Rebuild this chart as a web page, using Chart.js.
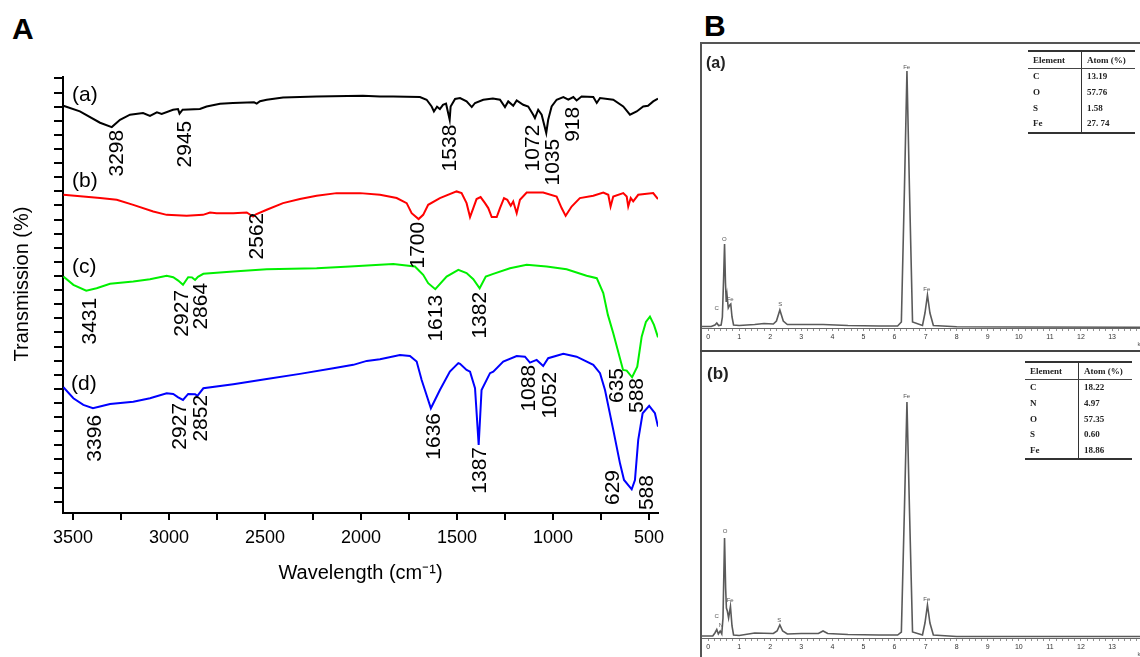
<!DOCTYPE html>
<html>
<head>
<meta charset="utf-8">
<script src="https://cdn.jsdelivr.net/npm/chart.js@4.4.0/dist/chart.umd.min.js"></script>
<style>
body{margin:0;background:#fff;width:1140px;height:657px;overflow:hidden;position:relative;font-family:'Liberation Sans',Arial,sans-serif}
canvas{position:absolute}
.lbl{position:absolute;font-weight:bold;line-height:1;color:#000}
.sub{position:absolute;font-weight:bold;line-height:1;color:#222}
.ln{position:absolute;background:#555}
table.t{position:absolute;border-collapse:collapse;font-family:'Liberation Serif','Times New Roman',serif;font-size:9px;font-weight:bold;color:#222;border-top:2px solid #333;border-bottom:2px solid #333}
table.t td{padding:0 0 0 5px;height:15.7px;line-height:15px;white-space:nowrap}
table.t tr.h td{border-bottom:1.5px solid #444;height:16px}
table.t td:first-child{border-right:1.5px solid #333;width:48px}
</style>
</head>
<body>
<div class="lbl" style="left:12px;top:14px;font-size:30px">A</div>
<div class="lbl" style="left:704px;top:11px;font-size:30px">B</div>

<canvas id="ftir" width="690" height="620" style="left:0;top:0"></canvas>
<canvas id="edsA" width="440" height="308" style="left:700px;top:43px"></canvas>
<canvas id="edsB" width="440" height="306" style="left:700px;top:351px"></canvas>

<div class="ln" style="left:700px;top:42px;width:440px;height:1.5px"></div>
<div class="ln" style="left:700px;top:42px;width:1.5px;height:615px"></div>
<div class="ln" style="left:700px;top:350px;width:440px;height:2px;background:#444"></div>

<div class="sub" style="left:706px;top:55px;font-size:16px">(a)</div>
<div class="sub" style="left:707px;top:365px;font-size:17px">(b)</div>

<table class="t" id="tabA" style="left:1028px;top:50px;width:107px"></table>
<table class="t" id="tabB" style="left:1025px;top:361px;width:107px"></table>

<script>
const FONT = "'Liberation Sans', Arial, sans-serif";
Chart.defaults.font.family = FONT;

// ---- A: FTIR spectra (wavenumber cm-1, transmission in arbitrary offset units)
const wnA = [3550,3464,3359,3298,3255,3203,3135,3099,3063,3038,2979,2953,2945,2929,2839,2804,2734,2667,2557,2543,2526,2491,2406,2231,1990,1901,1833,1693,1658,1632,1620,1604,1589,1573,1557,1538,1533,1510,1484,1450,1423,1406,1363,1313,1276,1250,1233,1207,1189,1155,1129,1103,1094,1077,1059,1035,1025,1007,981,946,920,894,877,851,790,772,755,686,634,599,564,530,505,478,453];
const tA  = [28.06,27.66,26.86,26.55,27.07,27.43,27.55,27.35,27.59,27.48,27.78,27.83,27.50,27.78,27.83,28.01,28.21,28.26,28.31,28.21,28.38,28.49,28.65,28.72,28.77,28.72,28.72,28.68,28.49,28.01,27.66,27.99,27.83,28.13,28.21,27.07,28.01,28.54,28.61,28.37,27.97,28.26,28.49,28.58,28.49,27.97,28.37,28.06,28.44,28.13,28.01,27.43,27.19,27.78,27.43,26.13,27.07,28.01,28.49,28.68,28.49,28.68,28.44,28.72,28.68,28.26,28.61,28.49,28.01,27.43,27.66,28.01,28.06,28.37,28.56];

const wnB = [3550,3359,3272,3186,3082,3012,2908,2823,2786,2752,2665,2595,2562,2547,2491,2406,2318,2231,2127,2005,1901,1814,1762,1736,1700,1676,1650,1589,1502,1476,1450,1432,1415,1398,1377,1354,1337,1319,1293,1276,1255,1238,1220,1207,1189,1172,1137,1051,981,955,934,903,860,790,738,712,700,686,634,616,608,595,582,556,478,453];
const tB  = [21.75,21.52,21.40,21.04,20.57,20.33,20.26,20.33,20.50,20.45,20.45,20.50,20.21,20.37,20.69,21.16,21.45,21.68,21.87,21.87,21.75,21.52,21.16,20.45,20.03,20.33,21.04,21.52,21.99,21.87,21.16,20.17,20.81,21.45,21.59,21.16,20.81,20.17,20.17,20.81,21.52,21.40,20.97,21.28,20.45,21.40,21.91,21.91,21.63,20.81,20.26,20.92,21.52,21.68,21.91,21.75,20.92,21.63,21.87,21.63,20.92,21.52,21.28,21.75,21.87,21.45];

const wnC = [3550,3498,3431,3377,3307,3186,3099,3012,2978,2952,2927,2900,2880,2864,2849,2821,2665,2491,2231,2057,1901,1832,1719,1676,1650,1613,1554,1493,1450,1415,1382,1350,1311,1224,1137,1033,929,825,772,738,714,686,635,616,588,561,538,516,495,474,453];
const tC  = [15.96,15.37,14.96,15.13,15.44,15.60,15.77,16.01,15.91,15.67,15.37,15.91,15.90,15.72,15.94,16.15,16.31,16.48,16.55,16.67,16.79,16.84,16.67,16.08,15.49,15.06,15.96,16.43,16.20,15.77,15.13,15.96,16.15,16.55,16.79,16.67,16.48,16.01,15.84,14.78,13.24,11.94,9.34,9.29,8.82,9.57,11.70,12.74,13.12,12.53,11.65];

const wnD = [3550,3498,3446,3396,3307,3186,3099,3012,2978,2952,2927,2900,2864,2852,2821,2665,2491,2318,2144,2040,1970,1901,1797,1745,1710,1684,1667,1636,1589,1537,1493,1484,1450,1432,1406,1387,1372,1328,1311,1259,1189,1146,1120,1085,1051,1025,946,877,790,755,729,686,651,630,590,573,556,533,499,469,453];
const tD  = [8.11,7.33,6.86,6.62,6.93,7.09,7.33,7.69,7.64,7.40,7.21,7.64,7.62,7.50,8.04,8.33,8.70,9.06,9.46,9.70,9.98,10.09,10.40,10.33,9.93,8.63,7.92,6.62,7.92,9.22,9.82,9.77,9.34,9.22,8.04,4.02,7.92,9.11,9.22,9.93,10.33,10.28,9.86,10.05,9.62,10.17,10.48,10.28,9.70,9.11,7.92,5.09,2.72,1.54,0.88,1.54,4.38,6.27,6.79,6.27,5.32];

// peak annotations (text, wavenumber, transmission at the top end of the text)
const peakText = ['3298','2945','1538','1072','1035','918','2562','1700','3431','2927','2864','1613','1382','635','588','3396','2927','2852','1636','1387','1088','1052','629','588'];
const peakWn   = [3272,2917,1537,1104,1000,896,2542,1702,3411,2932,2830,1609,1380,667,563,3385,2943,2830,1620,1377,1125,1016,688,511];
const peakT    = [26.36,27.00,26.72,26.72,25.72,27.99,20.48,19.84,14.45,15.01,15.51,14.66,14.87,9.48,8.77,6.15,7.00,7.57,6.29,3.88,9.70,9.20,2.25,1.89];

const curveNames = ['(a)','(b)','(c)','(d)'];
const curveNameWn = [3505,3505,3505,3510];
const curveNameT  = [28.84,22.74,16.65,8.35];
const curveColors = ['#000000','#ff0000','#00f000','#0000ff'];

// ---- B: EDS spectra (energy keV, counts)
const eA = [-0.26,0.10,0.22,0.28,0.34,0.42,0.46,0.50,0.53,0.56,0.585,0.61,0.65,0.70,0.73,0.77,0.82,1.0,1.5,1.8,2.1,2.2,2.31,2.42,2.55,3.0,3.7,4.5,5.5,6.1,6.22,6.32,6.40,6.48,6.58,6.9,6.98,7.06,7.14,7.25,8.0,10,13.9];
const cA = [15,15,30,50,25,30,110,500,840,450,260,330,200,230,240,110,30,25,35,45,40,70,180,70,35,35,35,25,20,20,60,1400,2570,1400,60,25,150,330,150,25,12,10,8];
const eB = [-0.26,0.15,0.22,0.28,0.33,0.39,0.44,0.48,0.53,0.565,0.59,0.62,0.66,0.72,0.77,0.82,1.0,1.5,2.1,2.22,2.31,2.40,2.55,3.0,3.55,3.7,3.85,4.5,5.5,6.1,6.22,6.32,6.40,6.48,6.58,6.9,6.98,7.06,7.14,7.25,8,13.9];
const cB = [20,20,50,85,40,70,40,200,1000,500,300,270,200,315,120,30,25,50,45,70,130,70,40,45,45,70,45,35,30,30,60,1300,2360,1300,60,30,150,330,150,30,15,15];

const edsLabA = ['C','O','Fe','S','Fe','Fe'];
const edsLabAE = [0.28,0.525,0.71,2.32,6.39,7.04];
const edsLabAC = [200,890,290,240,2610,390];
const edsLabB = ['C','N','O','Fe','S','Fe','Fe'];
const edsLabBE = [0.28,0.41,0.55,0.71,2.29,6.39,7.04];
const edsLabBC = [213,130,1063,373,180,2413,387];

const tabElemA = ['C','O','S','Fe'];
const tabAtomA = ['13.19','57.76','1.58','27. 74'];
const tabElemB = ['C','N','O','S','Fe'];
const tabAtomB = ['18.22','4.97','57.35','0.60','18.86'];

function pts(xs, ys) { return xs.map((x, i) => ({x: x, y: ys[i]})); }

const ftirText = {
    id: 'ftirText',
    afterDatasetsDraw(chart) {
        const {ctx, scales: {x, y}} = chart;
        ctx.save();
        ctx.fillStyle = '#000';
        ctx.font = '21px ' + FONT;
        ctx.textAlign = 'right';
        ctx.textBaseline = 'middle';
        for (let i = 0; i < peakText.length; i++) {
            ctx.save();
            ctx.translate(x.getPixelForValue(peakWn[i]), y.getPixelForValue(peakT[i]));
            ctx.rotate(-Math.PI / 2);
            ctx.fillText(peakText[i], 0, 0);
            ctx.restore();
        }
        ctx.textAlign = 'left';
        for (let i = 0; i < curveNames.length; i++) {
            ctx.fillText(curveNames[i], x.getPixelForValue(curveNameWn[i]), y.getPixelForValue(curveNameT[i]));
        }
        // y axis title
        ctx.font = '20px ' + FONT;
        ctx.textAlign = 'center';
        ctx.translate(22, 284);
        ctx.rotate(-Math.PI / 2);
        ctx.fillText('Transmission (%)', 0, 0);
        ctx.restore();
    }
};

new Chart(document.getElementById('ftir').getContext('2d'), {
    type: 'line',
    data: {
        datasets: [pts(wnA, tA), pts(wnB, tB), pts(wnC, tC), pts(wnD, tD)].map((d, i) => ({
            data: d,
            borderColor: curveColors[i],
            borderWidth: 2,
            pointRadius: 0,
            tension: 0,
            fill: false
        }))
    },
    options: {
        responsive: false,
        animation: false,
        layout: {padding: {left: 10, top: 77, right: 32, bottom: 35}, autoPadding: false},
        plugins: {legend: {display: false}, tooltip: {enabled: false}},
        scales: {
            x: {
                type: 'linear', reverse: true, min: 453, max: 3552,
                ticks: {
                    stepSize: 250, includeBounds: false, autoSkip: false, maxRotation: 0,
                    font: {size: 18}, color: '#000', padding: 7,
                    callback: v => (v % 500 === 0 ? String(v) : '')
                },
                grid: {drawOnChartArea: false, tickLength: 7, color: '#000', lineWidth: 2},
                border: {color: '#000', width: 2},
                title: {display: true, text: 'Wavelength (cm\u207B\u00B9)', font: {size: 20}, color: '#000', padding: 0},
                afterFit: s => { s.height = 72; }
            },
            y: {
                min: -0.8, max: 30.1,
                ticks: {stepSize: 1, includeBounds: false, display: false},
                grid: {drawOnChartArea: false, tickLength: 9, color: '#000', lineWidth: 2},
                border: {color: '#000', width: 2},
                afterFit: s => { s.width = 53; }
            }
        }
    },
    plugins: [ftirText]
});

function edsChart(id, E, C, yMax, axisH, labT, labE, labC) {
    const edsText = {
        id: 'edsText',
        afterDatasetsDraw(chart) {
            const {ctx, scales: {x, y}} = chart;
            ctx.save();
            ctx.fillStyle = '#555';
            ctx.font = '6px ' + FONT;
            ctx.textAlign = 'center';
            ctx.textBaseline = 'middle';
            for (let i = 0; i < labT.length; i++) {
                ctx.fillText(labT[i], x.getPixelForValue(labE[i]), y.getPixelForValue(labC[i]));
            }
            ctx.textAlign = 'left';
            ctx.fillText('keV', x.getPixelForValue(13.82), chart.chartArea.bottom + 16);
            ctx.restore();
        }
    };
    new Chart(document.getElementById(id).getContext('2d'), {
        type: 'line',
        data: {
            datasets: [{
                data: pts(E, C),
                borderColor: '#5a5a5a',
                borderWidth: 1.6,
                pointRadius: 0,
                tension: 0,
                fill: false
            }]
        },
        options: {
            responsive: false,
            animation: false,
            layout: {padding: 0, autoPadding: false},
            plugins: {legend: {display: false}, tooltip: {enabled: false}},
            scales: {
                x: {
                    type: 'linear', min: -0.26, max: 13.9,
                    ticks: {
                        stepSize: 0.2, includeBounds: false, autoSkip: false, maxRotation: 0,
                        font: {size: 7}, color: '#333', padding: 1.5,
                        callback: v => (Math.abs(v - Math.round(v)) < 1e-6 ? String(Math.round(v)) : '')
                    },
                    grid: {drawOnChartArea: false, tickLength: 3, color: '#777', lineWidth: 0.8},
                    border: {color: '#666', width: 1},
                    afterFit: s => { s.height = axisH; }
                },
                y: {display: false, min: 0, max: yMax}
            }
        },
        plugins: [edsText]
    });
}

edsChart('edsA', eA, cA, 2850, 23, edsLabA, edsLabAE, edsLabAC);
edsChart('edsB', eB, cB, 2870, 19, edsLabB, edsLabBE, edsLabBC);

function fillTable(id, elems, atoms) {
    let html = '<tr class="h"><td>Element</td><td>Atom (%)</td></tr>';
    for (let i = 0; i < elems.length; i++) {
        html += '<tr><td>' + elems[i] + '</td><td>' + atoms[i] + '</td></tr>';
    }
    document.getElementById(id).innerHTML = html;
}
fillTable('tabA', tabElemA, tabAtomA);
fillTable('tabB', tabElemB, tabAtomB);
</script>
</body>
</html>
